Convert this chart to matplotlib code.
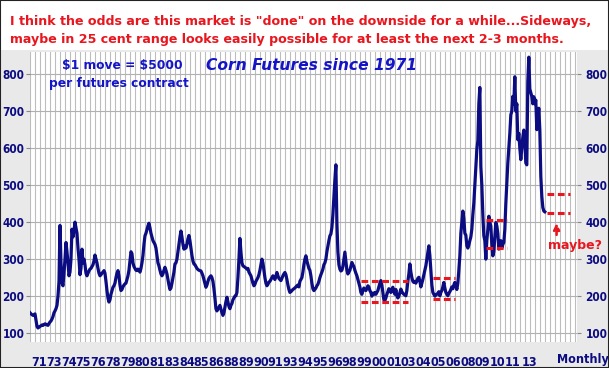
import numpy as np
import matplotlib
matplotlib.use("Agg")
import matplotlib.pyplot as plt
from matplotlib.patches import Rectangle

# monthly nearby corn futures, cents per bushel, one row per year (1971-2013)
PRICES = [
    155, 152, 150, 148, 150, 152, 135, 118, 114, 116, 118, 120,   # 1971
    122, 121, 123, 125, 124, 122, 121, 126, 130, 133, 138, 145,   # 1972
    155, 160, 166, 175, 200, 240, 391, 290, 235, 228, 262, 300,   # 1973
    345, 320, 290, 255, 265, 300, 381, 360, 375, 400, 385, 370,   # 1974
    330, 300, 258, 275, 327, 290, 300, 285, 262, 255, 262, 268,   # 1975
    273, 275, 280, 285, 295, 311, 300, 290, 275, 262, 255, 258,   # 1976
    262, 265, 269, 262, 240, 215, 195, 184, 190, 205, 215, 224,   # 1977
    228, 235, 250, 262, 269, 255, 230, 215, 218, 225, 230, 233,   # 1978
    235, 245, 255, 270, 295, 320, 315, 290, 280, 275, 270, 269,   # 1979
    273, 270, 265, 275, 290, 310, 340, 363, 370, 380, 390, 397,   # 1980
    385, 370, 360, 350, 345, 340, 330, 310, 290, 282, 270, 260,   # 1981
    255, 260, 270, 278, 270, 260, 245, 230, 218, 222, 235, 250,   # 1982
    265, 287, 290, 300, 320, 340, 360, 376, 360, 340, 327, 335,   # 1983
    330, 340, 355, 364, 350, 330, 310, 295, 287, 285, 280, 275,   # 1984
    272, 270, 269, 268, 262, 255, 245, 235, 224, 230, 240, 248,   # 1985
    252, 255, 250, 240, 220, 195, 166, 160, 165, 170, 175, 165,   # 1986
    155, 148, 155, 170, 185, 197, 185, 172, 166, 175, 180, 190,   # 1987
    195, 200, 201, 210, 250, 300, 356, 320, 290, 282, 280, 278,   # 1988
    276, 273, 275, 265, 260, 255, 245, 235, 228, 232, 240, 245,   # 1989
    250, 258, 270, 285, 300, 290, 270, 250, 235, 228, 232, 238,   # 1990
    240, 245, 250, 255, 250, 245, 255, 264, 255, 248, 245, 242,   # 1991
    248, 255, 260, 264, 258, 245, 230, 218, 210, 212, 215, 218,   # 1992
    220, 222, 225, 228, 230, 225, 240, 245, 250, 265, 285, 300,   # 1993
    309, 295, 285, 275, 270, 255, 235, 220, 215, 218, 222, 228,   # 1994
    232, 240, 250, 258, 265, 273, 285, 290, 300, 320, 335, 350,   # 1995
    363, 368, 385, 420, 470, 515, 555, 399, 320, 285, 273, 268,   # 1996
    270, 280, 300, 319, 295, 270, 260, 265, 270, 280, 291, 285,   # 1997
    280, 270, 262, 255, 245, 235, 225, 210, 205, 215, 222, 218,   # 1998
    215, 220, 228, 225, 215, 210, 200, 208, 205, 210, 205, 210,   # 1999
    215, 225, 235, 242, 230, 210, 190, 188, 195, 205, 212, 220,   # 2000
    215, 210, 218, 224, 212, 205, 218, 201, 195, 200, 210, 219,   # 2001
    212, 208, 205, 203, 201, 215, 240, 260, 287, 265, 250, 240,   # 2002
    237, 240, 235, 242, 248, 251, 240, 225, 235, 245, 258, 270,   # 2003
    282, 300, 320, 336, 310, 270, 230, 210, 205, 200, 203, 205,   # 2004
    208, 212, 201, 210, 215, 225, 237, 222, 210, 205, 201, 208,   # 2005
    212, 218, 225, 220, 230, 237, 228, 218, 235, 270, 309, 370,   # 2006
    400, 430, 410, 370, 365, 336, 330, 338, 350, 360, 381, 420,   # 2007
    452, 500, 550, 596, 620, 720, 764, 551, 500, 420, 363, 350,   # 2008
    300, 350, 380, 416, 400, 390, 340, 309, 320, 360, 399, 390,   # 2009
    370, 327, 340, 350, 330, 340, 345, 380, 450, 506, 560, 600,   # 2010
    640, 690, 700, 740, 720, 793, 700, 720, 623, 640, 600, 569,   # 2011
    600, 630, 649, 620, 560, 555, 780, 846, 760, 750, 740, 720,   # 2012
    739, 720, 730, 650, 680, 708, 650, 524, 470, 440, 430, 428,   # 2013
]
START_YEAR = 1971

YEAR_LABELS = ["71", "73", "74", "75", "76", "78", "79", "80", "81", "83",
               "84", "85", "86", "88", "89", "90", "91", "93", "94", "95",
               "96", "98", "99", "00", "01", "03", "04", "05", "06", "08",
               "09", "10", "11", "13"]
Y_TICKS = [100, 200, 300, 400, 500, 600, 700, 800]

# red dashed sideways ranges: (start year, end year, upper, lower)
RANGE_START = [1998.6, 2004.6, 2009.0, 2014.1]
RANGE_END = [2002.5, 2006.4, 2010.8, 2016.0]
RANGE_HIGH = [241, 249, 407, 475]
RANGE_LOW = [183, 193, 329, 424]

NAVY = "#0c0c82"
RED = "#e8161e"
BLUE = "#1414c8"
W, H = 609, 368

fig = plt.figure(figsize=(W / 100, H / 100), dpi=100, facecolor="#e9e9e9")
fig.patches.append(Rectangle((0, 1 - 50 / H), 1, 50 / H, transform=fig.transFigure,
                             facecolor="white", edgecolor="none", zorder=0))
fig.patches.append(Rectangle((0, 0), 1, 1, transform=fig.transFigure,
                             facecolor="none", edgecolor="#222222", lw=1.5, zorder=5))

ax = fig.add_axes([30 / W, 1 - 342 / H, 547 / W, 290 / H])
t = START_YEAR + np.arange(len(PRICES)) / 12
ax.plot(t, PRICES, color=NAVY, lw=2.3, zorder=3)

ax.set_xlim(1971, 2016.6)
ax.set_ylim(76, 860)

# vertical grid (every 5 months) and horizontal grid at the labelled levels
ax.set_xticks(np.arange(1971, 2016.6, 5 / 12), minor=True)
# the charting package packs its year labels side by side, last one set apart
label_pos = list(np.linspace(1971.75, 2011.2, len(YEAR_LABELS) - 1)) + [2012.6]
ax.set_xticks(label_pos)
ax.set_xticklabels(YEAR_LABELS)
ax.grid(True, which="minor", axis="x", color="#bdbdbd", lw=0.8)
ax.set_yticks(Y_TICKS)
ax.grid(True, which="major", axis="y", color="#b0b0b0", lw=0.8)
ax.tick_params(axis="x", which="both", length=0, pad=10)
ax.tick_params(axis="y", length=3, color="#888888", pad=1)
for s in ax.spines.values():
    s.set_visible(False)

lab_font = dict(family="DejaVu Sans", stretch="condensed", weight="bold",
                color=NAVY)
for lb in ax.get_xticklabels():
    lb.set(fontsize=9, **lab_font)
for lb in ax.get_yticklabels():
    lb.set(fontsize=8.5, **lab_font)

ax2 = ax.twinx()
ax2.set_ylim(ax.get_ylim())
ax2.set_yticks(Y_TICKS)
ax2.tick_params(axis="y", length=3, color="#888888", pad=3)
for lb in ax2.get_yticklabels():
    lb.set(fontsize=8.5, **lab_font)
for s in ax2.spines.values():
    s.set_visible(False)

fig.text(557 / W, 1 - 359 / H, "Monthly", fontsize=9, va="center", ha="left",
         **lab_font)

# sideways ranges
for x0, x1, hi, lo in zip(RANGE_START, RANGE_END, RANGE_HIGH, RANGE_LOW):
    ax.hlines([hi, lo], x0, x1, colors=RED, lw=2.2, linestyles=(0, (2.2, 1.2)),
              zorder=4, clip_on=False)

ax.annotate("", xy=(2014.9, 405), xytext=(2014.9, 358),
            arrowprops=dict(arrowstyle="-|>", color=RED, lw=1.8, ls=(0, (2, 1.5)),
                            mutation_scale=9), zorder=4, annotation_clip=False)
ax.text(2016.4, 338, "maybe?", color=RED, fontsize=9, weight="bold",
        ha="center", va="center", family="DejaVu Sans", clip_on=False)

# header note and in-chart captions
note = dict(color=RED, fontsize=9.1, weight="bold", family="DejaVu Sans",
            ha="left", va="center")
fig.text(10 / W, 1 - 22 / H,
         'I think the odds are this market is "done" on the downside for a while...Sideways,',
         **note)
fig.text(10 / W, 1 - 40 / H,
         "maybe in 25 cent range looks easily possible for at least the next 2-3 months.",
         **note)

cap = dict(color=BLUE, weight="bold", family="DejaVu Sans", ha="center",
           va="center")
fig.text(122 / W, 1 - 66 / H, r"\$1 move = \$5000", fontsize=8.8, **cap)
fig.text(119 / W, 1 - 84 / H, "per futures contract", fontsize=8.8, **cap)
fig.text(312 / W, 1 - 66 / H, "Corn Futures since 1971", fontsize=11.2,
         style="italic", **cap)

fig.savefig("out.png", dpi=100, facecolor=fig.get_facecolor())
